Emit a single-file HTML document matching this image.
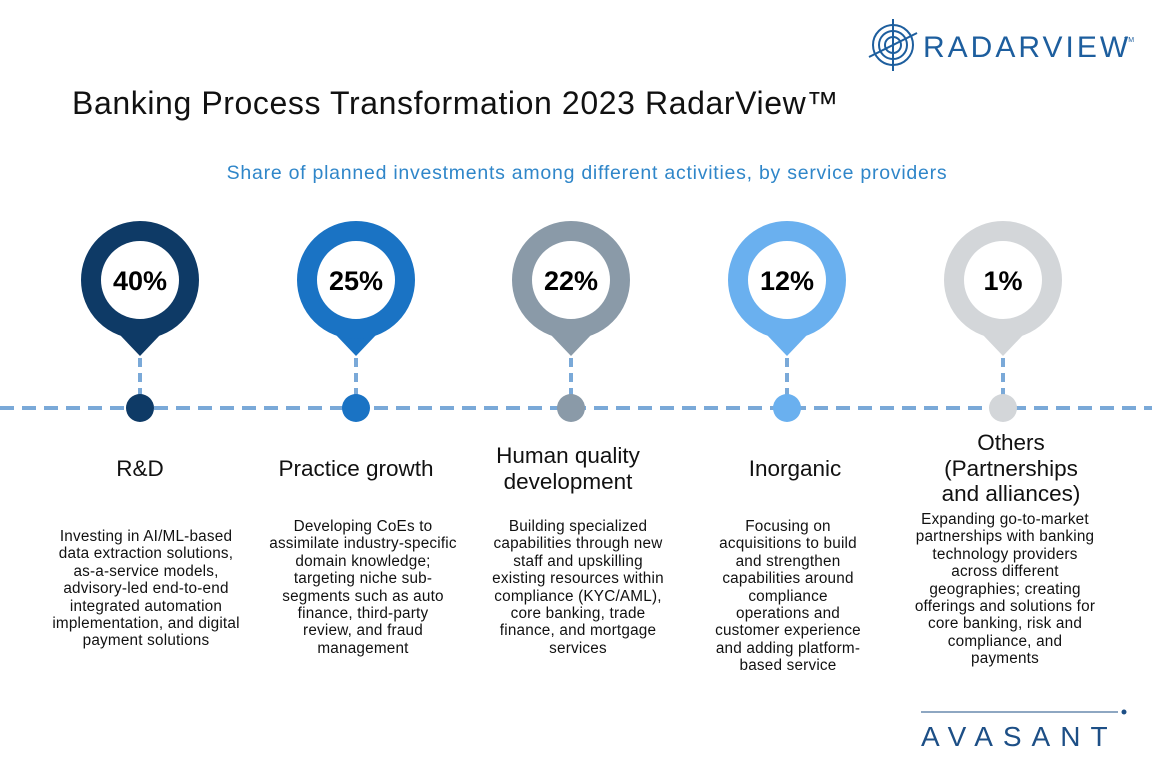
<!DOCTYPE html>
<html><head><meta charset="utf-8"><style>
body{margin:0;width:1152px;height:768px;background:#fff;position:relative;overflow:hidden;font-family:"Liberation Sans",sans-serif;color:#111}
.title{position:absolute;left:72px;top:85px;font-size:32px;color:#111;letter-spacing:0.6px;white-space:nowrap}
.sub{position:absolute;left:0;width:1174px;top:162px;font-size:19.5px;color:#2f86c9;text-align:center;letter-spacing:0.75px;white-space:nowrap}
.lab{position:absolute;width:240px;text-align:center;font-size:22.5px;line-height:25.5px;white-space:nowrap}
.desc{position:absolute;width:240px;text-align:center;font-size:15.3px;line-height:17.4px;letter-spacing:0.2px;white-space:nowrap}
</style></head><body>
<div class="title">Banking Process Transformation 2023 RadarView™</div>
<div class="sub">Share of planned investments among different activities, by service providers</div>
<svg width="1152" height="768" style="position:absolute;left:0;top:0">
<line x1="0" y1="408" x2="1152" y2="408" stroke="#7aa9d8" stroke-width="4" stroke-dasharray="14,8"/>
<g font-family="Liberation Sans,sans-serif" font-weight="bold" font-size="27" text-anchor="middle">
<g transform="translate(140,0)"><line x1="0" y1="358" x2="0" y2="396" stroke="#7aa9d8" stroke-width="4" stroke-dasharray="9,6"/><path d="M-20,335 L0,356 L20,335Z" fill="#0e3a66"/><circle cx="0" cy="280" r="49" fill="none" stroke="#0e3a66" stroke-width="20"/><circle cx="0" cy="408" r="14" fill="#0e3a66"/><text x="0" y="290">40%</text></g>
<g transform="translate(356,0)"><line x1="0" y1="358" x2="0" y2="396" stroke="#7aa9d8" stroke-width="4" stroke-dasharray="9,6"/><path d="M-20,335 L0,356 L20,335Z" fill="#1a73c4"/><circle cx="0" cy="280" r="49" fill="none" stroke="#1a73c4" stroke-width="20"/><circle cx="0" cy="408" r="14" fill="#1a73c4"/><text x="0" y="290">25%</text></g>
<g transform="translate(571,0)"><line x1="0" y1="358" x2="0" y2="396" stroke="#7aa9d8" stroke-width="4" stroke-dasharray="9,6"/><path d="M-20,335 L0,356 L20,335Z" fill="#8a9aa8"/><circle cx="0" cy="280" r="49" fill="none" stroke="#8a9aa8" stroke-width="20"/><circle cx="0" cy="408" r="14" fill="#8a9aa8"/><text x="0" y="290">22%</text></g>
<g transform="translate(787,0)"><line x1="0" y1="358" x2="0" y2="396" stroke="#7aa9d8" stroke-width="4" stroke-dasharray="9,6"/><path d="M-20,335 L0,356 L20,335Z" fill="#6ab0ef"/><circle cx="0" cy="280" r="49" fill="none" stroke="#6ab0ef" stroke-width="20"/><circle cx="0" cy="408" r="14" fill="#6ab0ef"/><text x="0" y="290">12%</text></g>
<g transform="translate(1003,0)"><line x1="0" y1="358" x2="0" y2="396" stroke="#7aa9d8" stroke-width="4" stroke-dasharray="9,6"/><path d="M-20,335 L0,356 L20,335Z" fill="#d3d6d9"/><circle cx="0" cy="280" r="49" fill="none" stroke="#d3d6d9" stroke-width="20"/><circle cx="0" cy="408" r="14" fill="#d3d6d9"/><text x="0" y="290">1%</text></g>
</g>
<g transform="translate(893,45)" stroke="#1d5e9e" fill="none" stroke-width="2">
<circle r="20"/><circle r="14"/><circle r="8"/><line x1="0" y1="-26" x2="0" y2="26"/><line x1="-24" y1="12" x2="24" y2="-12"/>
</g>
<text x="923" y="57" font-family="Liberation Sans,sans-serif" font-size="30" fill="#1d5e9e" letter-spacing="3">RADARVIEW</text>
<text x="1124" y="42" font-family="Liberation Sans,sans-serif" font-size="7" fill="#1d5e9e">TM</text>
<text x="921" y="746" font-family="Liberation Sans,sans-serif" font-size="28" fill="#1d4f86" letter-spacing="10">AVASANT</text>
<line x1="921" y1="712" x2="1118" y2="712" stroke="#1d4f86" stroke-width="1"/>
<circle cx="1124" cy="712" r="2.5" fill="#1d4f86"/>
</svg>
<div class="lab" style="left:20px;top:456px">R&amp;D</div>
<div class="lab" style="left:236px;top:456px">Practice growth</div>
<div class="lab" style="left:448px;top:443px">Human quality<br>development</div>
<div class="lab" style="left:675px;top:456px">Inorganic</div>
<div class="lab" style="left:891px;top:430px">Others<br>(Partnerships<br>and alliances)</div>
<div class="desc" style="left:26px;top:528px">Investing in AI/ML-based<br>data extraction solutions,<br>as-a-service models,<br>advisory-led end-to-end<br>integrated automation<br>implementation, and digital<br>payment solutions</div>
<div class="desc" style="left:243px;top:518px">Developing CoEs to<br>assimilate industry-specific<br>domain knowledge;<br>targeting niche sub-<br>segments such as auto<br>finance, third-party<br>review, and fraud<br>management</div>
<div class="desc" style="left:458px;top:518px">Building specialized<br>capabilities through new<br>staff and upskilling<br>existing resources within<br>compliance (KYC/AML),<br>core banking, trade<br>finance, and mortgage<br>services</div>
<div class="desc" style="left:668px;top:518px">Focusing on<br>acquisitions to build<br>and strengthen<br>capabilities around<br>compliance<br>operations and<br>customer experience<br>and adding platform-<br>based service</div>
<div class="desc" style="left:885px;top:511px">Expanding go-to-market<br>partnerships with banking<br>technology providers<br>across different<br>geographies; creating<br>offerings and solutions for<br>core banking, risk and<br>compliance, and<br>payments</div>
</body></html>
